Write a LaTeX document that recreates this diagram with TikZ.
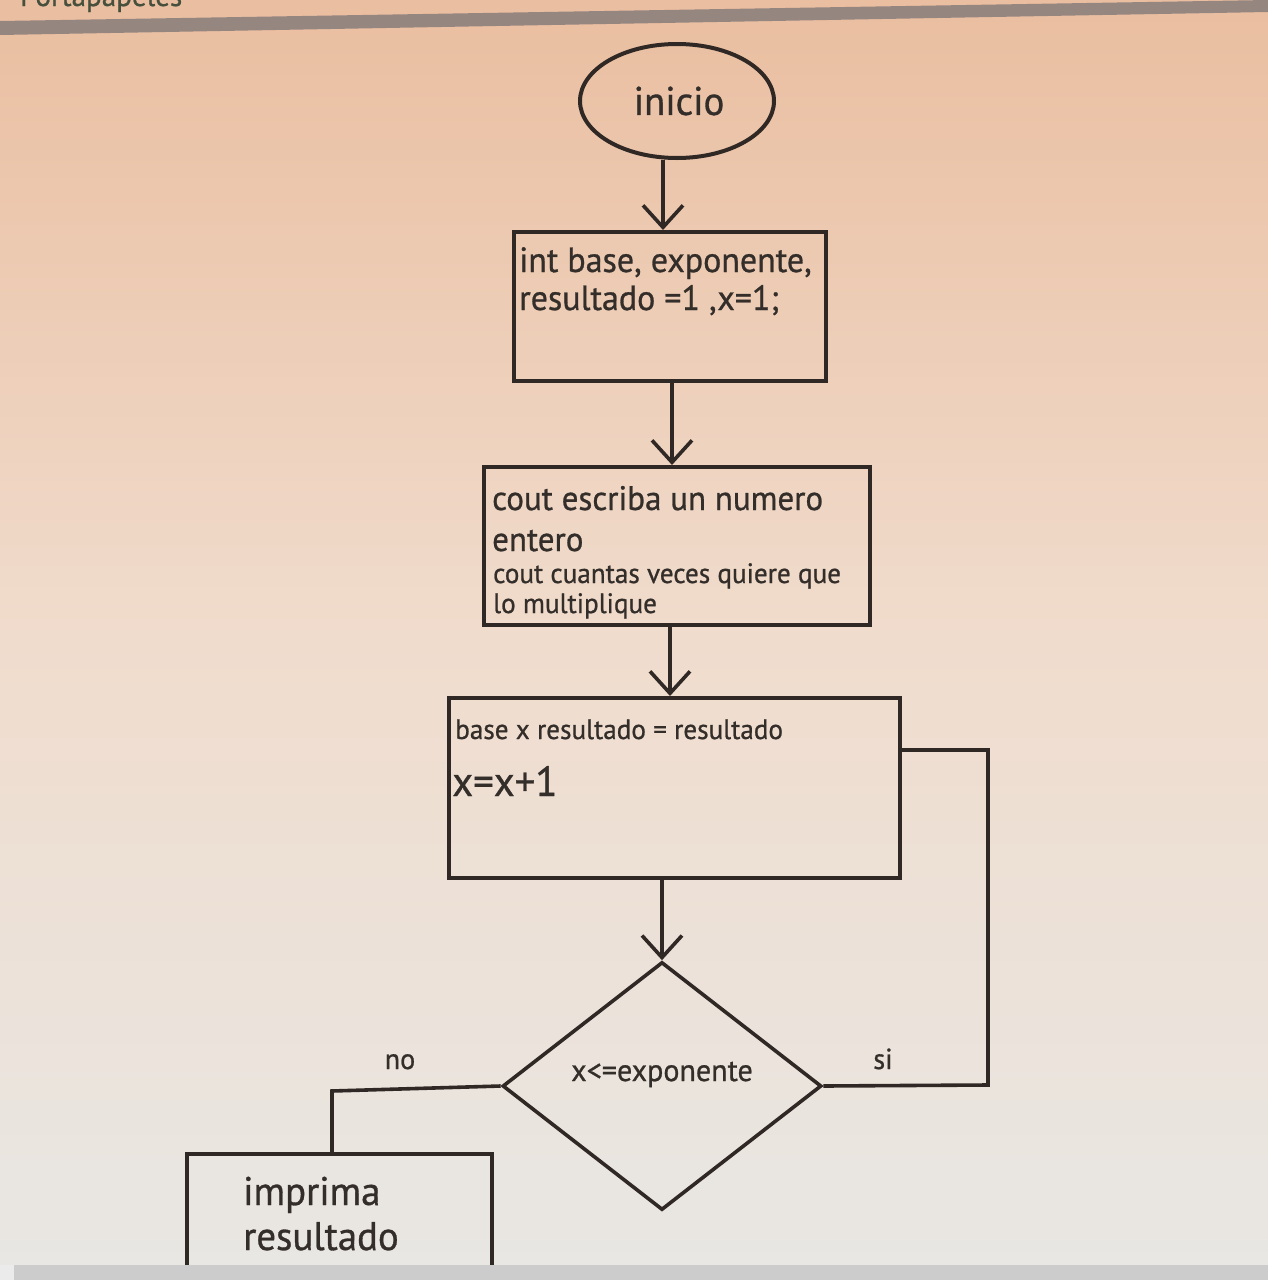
\documentclass[tikz,border=0pt]{standalone}
\usepackage{fontspec}
\setmainfont{PT Sans}
\newfontfamily\nar[FakeStretch=0.97,FakeBold=0.8]{PT Sans}
\usetikzlibrary{shapes.geometric,arrows.meta}
\definecolor{ink}{RGB}{48,40,36}
\definecolor{txt}{RGB}{52,46,42}
\definecolor{bgtop}{RGB}{234,190,160}
\definecolor{bgmid}{RGB}{240,220,205}
\definecolor{bgbot}{RGB}{232,231,228}
\definecolor{bar}{RGB}{150,134,128}
\definecolor{botbar}{RGB}{204,204,204}
\definecolor{corner}{RGB}{235,235,235}
\definecolor{chrometxt}{RGB}{70,80,60}
\tikzset{
  box/.style={draw=ink, line width=4pt, rectangle, inner sep=0pt},
  conn/.style={draw=ink, line width=3.6pt},
  arr/.style={conn, -{Straight Barb[length=22pt,width=40pt,line width=3.6pt]}},
  lbl/.style={inner sep=0pt, anchor=base west, text=txt, font=\nar},
}
\begin{document}
\begin{tikzpicture}[x=1pt,y=-1pt]
\useasboundingbox (0,0) rectangle (1268,1280);
\begin{scope}
\clip (0,0) rectangle (1268,1280);
% background
\shade[top color=bgtop, bottom color=bgmid] (0,0) rectangle (1268,640);
\shade[top color=bgmid, bottom color=bgbot] (0,640) rectangle (1268,1280);
% window chrome
\node[lbl, font=\nar\fontsize{30}{30}\selectfont, text=chrometxt] (clip) at (20,6) {Portapapeles};
\fill[bar] (0,21) -- (1268,0) -- (1268,12) -- (0,35) -- cycle;

% nodes
\node[draw=ink, line width=4pt, ellipse, minimum width=194pt, minimum height=114pt, inner sep=0pt] (ini) at (677,101) {};
\node[lbl, anchor=center, font=\nar\fontsize{40}{40}\selectfont] (initxt) at (679,101) {inicio};

\node[box, minimum width=312pt, minimum height=149pt] (b1) at (670,306.5) {};
\node[lbl, font=\nar\fontsize{35}{35}\selectfont] (b1a) at (519,272) {int base, exponente,};
\node[lbl, font=\nar\fontsize{35}{35}\selectfont] (b1b) at (519,310) {resultado =1 ,x=1;};

\node[box, minimum width=386pt, minimum height=158pt] (b2) at (677,546) {};
\node[lbl, font=\nar\fontsize{34}{34}\selectfont] (b2a) at (492,510) {cout escriba un numero};
\node[lbl, font=\nar\fontsize{34}{34}\selectfont] (b2b) at (492,551) {entero};
\node[lbl, font=\nar\fontsize{28}{28}\selectfont] (b2c) at (493,583) {cout cuantas veces quiere que};
\node[lbl, font=\nar\fontsize{28}{28}\selectfont] (b2d) at (493,613) {lo multiplique};

\node[box, minimum width=451pt, minimum height=180pt] (b3) at (674.5,788) {};
\node[lbl, font=\nar\fontsize{28}{28}\selectfont] (b3a) at (455,739) {base x resultado = resultado};
\node[lbl, font=\nar\fontsize{42}{42}\selectfont] (b3b) at (452,796) {x=x+1};

\node[draw=ink, line width=3.6pt, diamond, minimum width=319pt, minimum height=248pt, inner sep=0pt] (dia) at (662,1086) {};
\node[lbl, anchor=base, font=\nar\fontsize{31}{31}\selectfont] (diatxt) at (662,1081) {x<=exponente};

\node[lbl, anchor=base, font=\nar\fontsize{29}{29}\selectfont] (si) at (883,1069) {si};
\node[lbl, anchor=base, font=\nar\fontsize{29}{29}\selectfont] (no) at (400,1069) {no};

\node[box, minimum width=305pt, minimum height=220pt, anchor=north] (b4) at (339.5,1152) {};
\node[lbl, font=\nar\fontsize{40}{40}\selectfont] (b4a) at (243,1205) {imprima};
\node[lbl, font=\nar\fontsize{40}{40}\selectfont] (b4b) at (243,1250) {resultado};

% connectors
\draw[arr] ([xshift=-14pt]ini.south) -- ([xshift=-14pt]ini.south |- b1.north);
\draw[arr] ([xshift=2pt]b1.south) -- ([xshift=2pt]b1.south |- b2.north);
\draw[arr] ([xshift=-7pt]b2.south) -- ([xshift=-7pt]b2.south |- b3.north);
\draw[arr] (dia.north |- b3.south) -- (dia.north);

\coordinate (lr) at (988,1085);
\coordinate (ur) at (988,750);
\draw[conn] (dia.east) -- (lr) -- (ur) -- (ur -| b3.east);

\coordinate (ll) at (332,1091);
\draw[conn] (dia.west) -- (ll) -- (ll |- b4.north);

% bottom bar
\fill[botbar] (14,1265) rectangle (1268,1280);
\fill[corner] (0,1265) rectangle (14,1280);
\end{scope}
\end{tikzpicture}
\end{document}
